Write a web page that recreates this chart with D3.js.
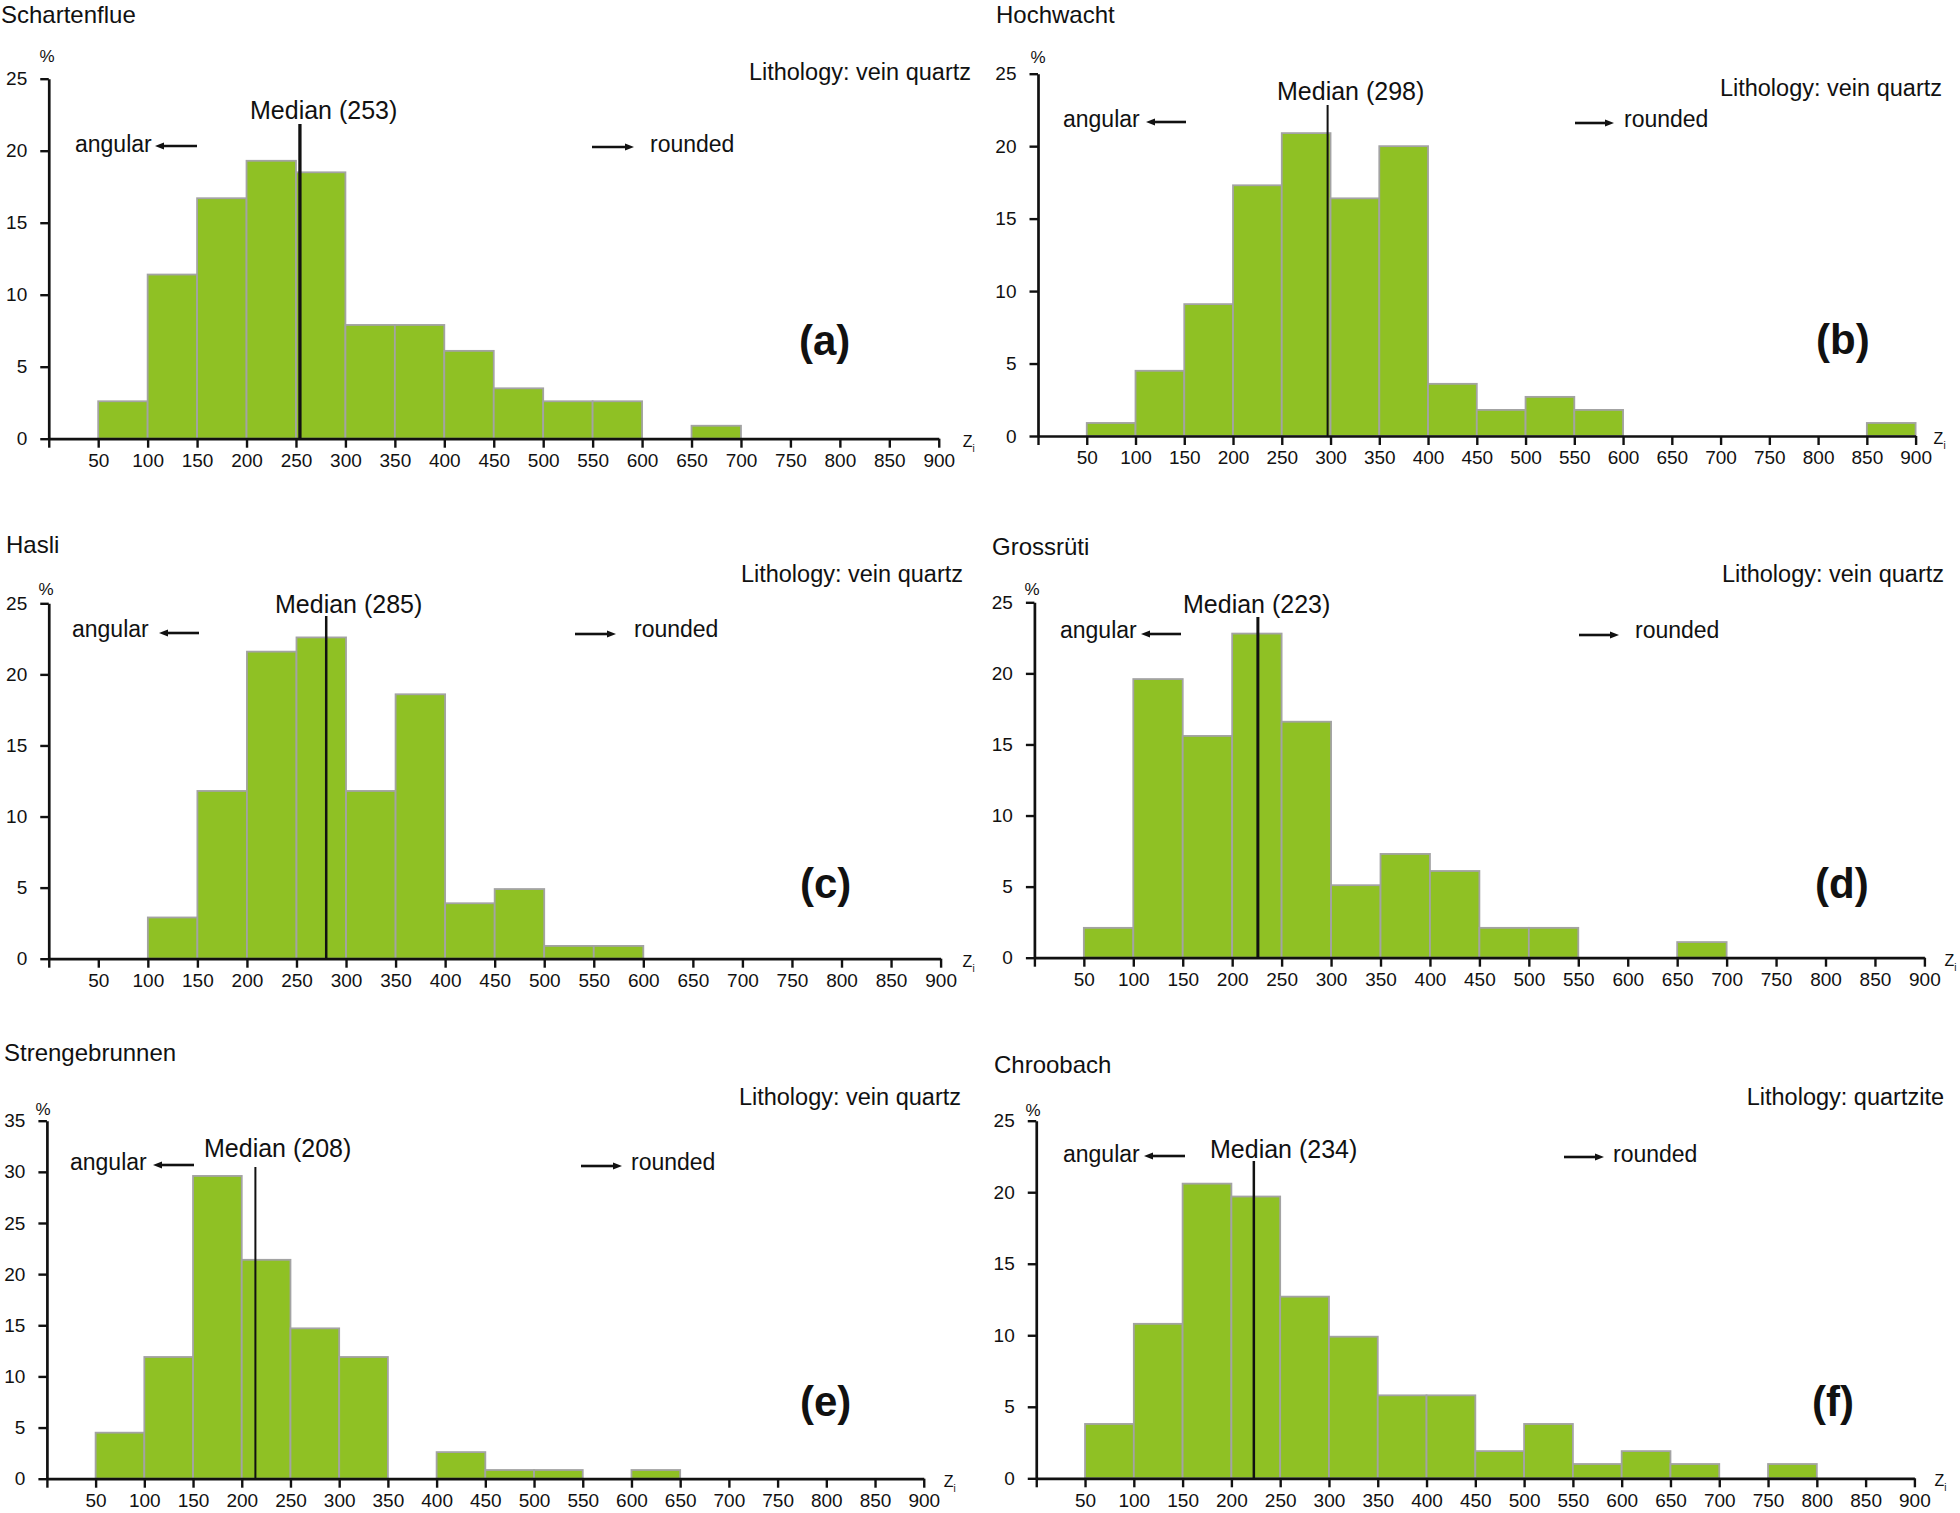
<!DOCTYPE html>
<html><head><meta charset="utf-8">
<script src="https://cdn.jsdelivr.net/npm/d3@7"></script>
<style>
body{margin:0;background:#fff}
svg{display:block}
text{font-family:"Liberation Sans",Arial,sans-serif;fill:#111}
</style>
</head><body>
<svg id="chart" width="1960" height="1513"></svg>
<script>
// ---------- DATA ----------
const siteNames = ["Schartenflue","Hochwacht","Hasli","Grossrüti","Strengebrunnen","Chroobach"];
const lithologies = ["Lithology: vein quartz","Lithology: vein quartz","Lithology: vein quartz","Lithology: vein quartz","Lithology: vein quartz","Lithology: quartzite"];
const panelLetters = ["(a)","(b)","(c)","(d)","(e)","(f)"];
const medianValues = [253,298,285,223,208,234];          // label values
const medianLinePositions = [254,297,280,226,214,223];   // where the line is drawn in the picture
const binStarts = [50,100,150,200,250,300,350,400,450,500,550,600,650,700,750,800,850];
const binWidth = 50;
const xTickValues = [0,50,100,150,200,250,300,350,400,450,500,550,600,650,700,750,800,850,900];
const yMaxValues = [25,25,25,25,35,25];
const pctSchartenflue   = [2.6,11.4,16.7,19.3,18.5,7.9,7.9,6.1,3.5,2.6,2.6,0,0.9,0,0,0,0];
const pctHochwacht      = [0.9,4.5,9.1,17.3,20.9,16.4,20.0,3.6,1.8,2.7,1.8,0,0,0,0,0,0.9];
const pctHasli          = [0,2.9,11.8,21.6,22.6,11.8,18.6,3.9,4.9,0.9,0.9,0,0,0,0,0,0];
const pctGrossruti      = [2.1,19.6,15.6,22.8,16.6,5.1,7.3,6.1,2.1,2.1,0,0,1.1,0,0,0,0];
const pctStrengebrunnen = [4.5,11.9,29.6,21.4,14.7,11.9,0,2.6,0.85,0.85,0,0.85,0,0,0,0,0];
const pctChroobach      = [3.8,10.8,20.6,19.7,12.7,9.9,5.8,5.8,1.9,3.8,1.0,1.9,1.0,0,1.0,0,0];
const seriesList = [pctSchartenflue,pctHochwacht,pctHasli,pctGrossruti,pctStrengebrunnen,pctChroobach];

// ---------- LAYOUT (pixels) ----------
const layout = [
 {x0:48.75,x1:938.75,y0:438.7,yTop:78.7, title:[1,23], pct:[47,62], lith:[971,80], med:[250,119], medTop:124, medW:3.3,
  ang:[75,152], angArrow:[155,197,146], rnd:[650,152], rndArrow:[592,634,147], letter:[799,355], z:24},
 {x0:1038,x1:1915.6,y0:436,yTop:73.7, title:[996,23], pct:[1038,63], lith:[1942,96], med:[1277,100], medTop:105, medW:2,
  ang:[1063,127], angArrow:[1146,1186,122], rnd:[1624,127], rndArrow:[1575,1614,123], letter:[1816,354], z:18},
 {x0:48.75,x1:940.6,y0:958.7,yTop:603.3, title:[6,553], pct:[46,595], lith:[963,582], med:[275,613], medTop:616, medW:2.5,
  ang:[72,637], angArrow:[159,199,633], rnd:[634,637], rndArrow:[575,616,634], letter:[800,898], z:22},
 {x0:1034.4,x1:1924.4,y0:957.7,yTop:602.3, title:[992,555], pct:[1032,595], lith:[1944,582], med:[1183,613], medTop:617, medW:3,
  ang:[1060,638], angArrow:[1141,1181,634], rnd:[1635,638], rndArrow:[1579,1619,635], letter:[1815,898], z:20},
 {x0:46.9,x1:923.75,y0:1478.7,yTop:1120.7, title:[4,1061], pct:[43,1115], lith:[961,1105], med:[204,1157], medTop:1167, medW:2,
  ang:[70,1170], angArrow:[153,194,1165], rnd:[631,1170], rndArrow:[581,622,1166], letter:[800,1416], z:20},
 {x0:1036.25,x1:1914.4,y0:1478.3,yTop:1120.7, title:[994,1073], pct:[1033,1116], lith:[1944,1105], med:[1210,1158], medTop:1161, medW:2.5,
  ang:[1063,1162], angArrow:[1144,1185,1156], rnd:[1613,1162], rndArrow:[1564,1604,1157], letter:[1812,1416], z:20}
];

const svg = d3.select("#chart");
const GREEN = "#8fc124", BAR_STROKE = "#a3a3a3", INK = "#111";

function arrow(g, xa, xb, y, dir){
  const head = 9, hw = 3.6;
  const tip = dir < 0 ? xa : xb;
  const base = tip - dir*head;
  const other = dir < 0 ? xb : xa;
  g.append("line").attr("x1", base).attr("x2", other).attr("y1", y).attr("y2", y)
    .attr("stroke", INK).attr("stroke-width", 2.6);
  g.append("path").attr("d", `M${tip},${y} L${base},${y-hw} L${base},${y+hw} Z`).attr("fill", INK);
}

layout.forEach((L, i) => {
  const g = svg.append("g");
  const data = seriesList[i];
  const yMax = yMaxValues[i];
  const x = d3.scaleLinear().domain([0, 900]).range([L.x0, L.x1]);
  const y = d3.scaleLinear().domain([0, yMax]).range([L.y0, L.yTop]);

  g.append("g").selectAll("rect")
    .data(binStarts.map((s, k) => ({s, v: data[k]})).filter(d => d.v > 0))
    .join("rect")
    .attr("x", d => x(d.s))
    .attr("width", d => x(d.s + binWidth) - x(d.s))
    .attr("y", d => y(d.v))
    .attr("height", d => y(0) - y(d.v))
    .attr("fill", GREEN)
    .attr("stroke", BAR_STROKE)
    .attr("stroke-width", 1.8);

  g.append("line")
    .attr("x1", x(medianLinePositions[i])).attr("x2", x(medianLinePositions[i]))
    .attr("y1", L.medTop).attr("y2", y(0))
    .attr("stroke", INK).attr("stroke-width", L.medW);

  const yTicks = d3.range(0, yMax + 1, 5);
  const yAxis = d3.axisLeft(y).tickValues(yTicks).tickSize(8.5).tickSizeOuter(0).tickPadding(13);
  const xAxis = d3.axisBottom(x).tickValues(xTickValues).tickFormat(d => d === 0 ? "" : d)
      .tickSize(9).tickSizeOuter(0).tickPadding(6);

  const ya = g.append("g").attr("transform", `translate(${L.x0},0)`).call(yAxis);
  const xa = g.append("g").attr("transform", `translate(0,${L.y0})`).call(xAxis);
  [ya, xa].forEach(a => {
    a.select(".domain").attr("stroke", INK).attr("stroke-width", 2.7);
    a.selectAll(".tick line").attr("stroke", INK).attr("stroke-width", 2.4);
    a.selectAll(".tick text").attr("fill", INK).style("font-size", "19px")
      .style("font-family", '"Liberation Sans", Arial, sans-serif');
  });

  g.append("text").attr("x", L.title[0]).attr("y", L.title[1]).style("font-size", "24px").text(siteNames[i]);
  g.append("text").attr("x", L.pct[0]).attr("y", L.pct[1]).attr("text-anchor", "middle").style("font-size", "17px").text("%");
  g.append("text").attr("x", L.lith[0]).attr("y", L.lith[1]).attr("text-anchor", "end").style("font-size", "23.5px").text(lithologies[i]);
  g.append("text").attr("x", L.med[0]).attr("y", L.med[1]).style("font-size", "25px").text(`Median (${medianValues[i]})`);
  g.append("text").attr("x", L.ang[0]).attr("y", L.ang[1]).style("font-size", "23px").text("angular");
  arrow(g, L.angArrow[0], L.angArrow[1], L.angArrow[2], -1);
  g.append("text").attr("x", L.rnd[0]).attr("y", L.rnd[1]).style("font-size", "23px").text("rounded");
  arrow(g, L.rndArrow[0], L.rndArrow[1], L.rndArrow[2], 1);
  g.append("text").attr("x", L.letter[0]).attr("y", L.letter[1]).style("font-size", "42px").style("font-weight", "bold").text(panelLetters[i]);
  const zt = g.append("text").attr("x", L.x1 + L.z).attr("y", L.y0 + 8).style("font-size", "16px");
  zt.append("tspan").text("Z");
  zt.append("tspan").attr("dy", 5).style("font-size", "10px").text("i");
});
</script>
</body></html>
